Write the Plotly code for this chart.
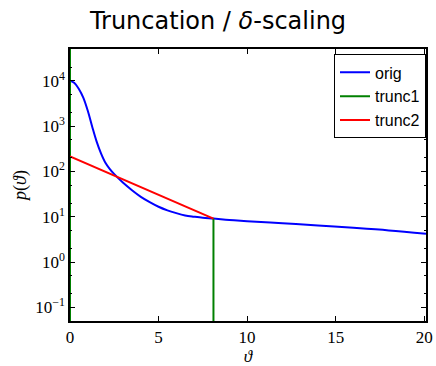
import plotly.graph_objects as go

# Data
orig_x = [0, 0.25, 0.5, 0.75, 1.0, 1.25, 1.5, 1.75, 2.0, 2.25, 2.5, 3.0, 3.5, 4.0, 4.5, 5.0, 5.5, 6.0, 6.5, 7.0, 7.5, 8.1, 9.0, 10.0, 12.0, 14.0, 16.0, 18.0, 20.1]
orig_y = [10000, 8900, 6600, 4250, 2200, 980, 460, 250, 155, 112, 87, 56, 38.5, 27.5, 21, 16.6, 13.8, 12.0, 10.7, 10.0, 9.45, 9.1, 8.5, 8.0, 7.2, 6.4, 5.7, 5.0, 4.2]

trunc1_x = [0, 0, None, 8.1, 8.1]
trunc1_y = [1e-3, 1e6, None, 1e-3, 9.1]

trunc2_x = [0, 8.1]
trunc2_y = [214, 9.1]

y_tickvals = [0.1, 1, 10, 100, 1000, 10000]
y_ticktext = ["10<sup>−1</sup>", "10<sup>0</sup>", "10<sup>1</sup>", "10<sup>2</sup>", "10<sup>3</sup>", "10<sup>4</sup>"]
x_tickvals = [0, 5, 10, 15, 20]

serif = "Liberation Serif"
sans = "DejaVu Sans"

fig = go.Figure()
fig.add_trace(go.Scatter(x=orig_x, y=orig_y, mode="lines", name="orig",
                         line=dict(color="#0000ff", width=2, shape="spline", smoothing=1.0)))
fig.add_trace(go.Scatter(x=trunc1_x, y=trunc1_y, mode="lines", name="trunc1",
                         line=dict(color="#008000", width=2)))
fig.add_trace(go.Scatter(x=trunc2_x, y=trunc2_y, mode="lines", name="trunc2",
                         line=dict(color="#ff0000", width=2)))

fig.update_layout(
    width=436, height=366,
    margin=dict(l=70, r=3, t=49, b=34),
    paper_bgcolor="white", plot_bgcolor="white",
    title=dict(text="Truncation / <i>δ</i>-scaling", x=0.5, xanchor="center",
               y=0.945, yanchor="middle", font=dict(family=sans, size=24, color="black")),
    showlegend=True,
    legend=dict(x=1.0, y=0.98, xanchor="right", yanchor="top",
                bordercolor="black", borderwidth=1, bgcolor="white",
                font=dict(family="Liberation Sans", size=16, color="black"),
                tracegroupgap=0, itemwidth=30),
    xaxis=dict(range=[0, 20.1], tickvals=x_tickvals, ticks="inside", ticklen=5,
               ticklabeloverflow="allow",
               tickcolor="black", showline=True, linecolor="black", linewidth=1.5, mirror="allticks",
               showgrid=False, zeroline=False,
               tickfont=dict(family=serif, size=17, color="black"),
               title=dict(text="<i>ϑ</i>", font=dict(family=serif, size=17, color="black"), standoff=4)),
    yaxis=dict(type="log", range=[-1.3, 4.7], tickvals=y_tickvals, ticktext=y_ticktext,
               ticks="inside", ticklen=5,
               tickcolor="black", showline=True, linecolor="black", linewidth=1.5, mirror="allticks",
               showgrid=False, zeroline=False,
               minor=dict(ticks="inside", ticklen=2, tickcolor="black", showgrid=False),
               tickfont=dict(family=serif, size=17, color="black"),
               title=dict(text="<i>p</i>(<i>ϑ</i>)", font=dict(family=serif, size=18, color="black"), standoff=4)),
)

fig.write_html("out.html")
